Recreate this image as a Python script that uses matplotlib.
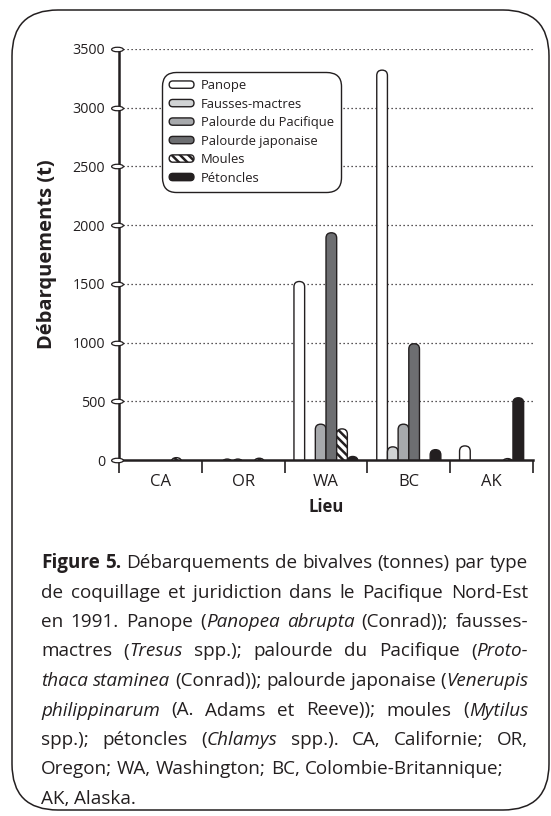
import matplotlib
matplotlib.use("Agg")
import matplotlib.pyplot as plt
from matplotlib.patches import FancyBboxPatch, Patch
from matplotlib.legend_handler import HandlerPatch
from matplotlib.path import Path
import matplotlib.transforms as mtransforms
import numpy as np

plt.rcParams['font.family'] = ['Open Sans', 'DejaVu Sans']
plt.rcParams['hatch.linewidth'] = 1.8
plt.rcParams['hatch.color'] = '#231f20'
INK = '#231f20'

# ---------------- data ----------------
locations = ['CA', 'OR', 'WA', 'BC', 'AK']
species = ['Panope', 'Fausses-mactres', 'Palourde du Pacifique',
           'Palourde japonaise', 'Moules', 'Pétoncles']
panope = [0, 0, 1520, 3320, 120]
fausses = [0, 8, 0, 112, 0]
pacifique = [0, 8, 305, 305, 0]
japonaise = [0, 0, 1935, 990, 0]
moules = [20, 15, 265, 0, 12]
petoncles = [0, 0, 30, 88, 530]
series = [panope, fausses, pacifique, japonaise, moules, petoncles]
yticks = [0, 500, 1000, 1500, 2000, 2500, 3000, 3500]

facecolors = ['white', '#d1d3d4', '#a7a9ac', '#6d6e71', 'white', INK]
hatches = [None, None, None, None, '\\\\\\\\', None]

# ---------------- figure ----------------
W, H = 551, 816
fig = plt.figure(figsize=(W / 100, H / 100), dpi=100)

bg = fig.add_axes([0, 0, 1, 1], zorder=0)
bg.set_xlim(0, W)
bg.set_ylim(H, 0)
bg.axis('off')
bg.add_patch(FancyBboxPatch((12, 10), 537, 800,
                            boxstyle='round,pad=0,rounding_size=46',
                            fill=False, ec=INK, lw=1.1))

ax_l, ax_r, ax_t, ax_b = 119, 533, 49, 460
ax = fig.add_axes([ax_l / W, 1 - ax_b / H, (ax_r - ax_l) / W, (ax_b - ax_t) / H],
                  zorder=1)
ax.patch.set_visible(False)
ax.set_xlim(0, len(locations))
ax.set_ylim(0, 3500)

n = len(species)
bw = 0.129
px_x = len(locations) / (ax_r - ax_l)
px_y = 3500 / (ax_b - ax_t)
aspect = px_y / px_x
ext = 12 * px_y
for i, (vals, fc, h) in enumerate(zip(series, facecolors, hatches)):
    for j, v in enumerate(vals):
        if v <= 0:
            continue
        x0 = j + 0.5 - n * bw / 2 + i * bw
        p = FancyBboxPatch((x0, -ext), bw, v + ext,
                           boxstyle=f'round,pad=0,rounding_size={bw / 2}',
                           mutation_aspect=aspect, fc=fc, ec=INK, lw=1.0,
                           hatch=h, zorder=3)
        ax.add_patch(p)

for t in yticks[1:]:
    ax.axhline(t, color=INK, lw=0.9, ls=(0, (1, 2.2)), zorder=1)

for s in ['top', 'right']:
    ax.spines[s].set_visible(False)
for s in ['left', 'bottom']:
    ax.spines[s].set_linewidth(1.8)
    ax.spines[s].set_color(INK)
    ax.spines[s].set_zorder(4)

ax.set_yticks(yticks)
ax.set_yticklabels([str(t) for t in yticks])
ax.tick_params(axis='y', length=0, pad=10, labelsize=10.3, labelcolor=INK)

circ = Path.unit_circle()
ell = Path(circ.vertices * np.array([1.0, 0.38]), circ.codes)
trans = mtransforms.blended_transform_factory(ax.transAxes, ax.transData)
ax.plot([-0.005] * len(yticks), yticks, transform=trans, ls='none', marker=ell,
        ms=8.5, mfc='white', mec=INK, mew=0.9, clip_on=False, zorder=5)

ax.set_xticks(range(len(locations) + 1))
ax.set_xticklabels([])
ax.set_xticks(np.arange(len(locations)) + 0.5, minor=True)
ax.set_xticklabels(locations, minor=True)
ax.tick_params(axis='x', which='major', length=9, width=1.2, color=INK)
ax.tick_params(axis='x', which='minor', length=0, pad=10, labelsize=12,
               labelcolor=INK)

ax.set_ylabel('Débarquements (t)', fontweight='bold', fontsize=14.5, color=INK)
ax.yaxis.set_label_coords((57 - ax_l) / (ax_r - ax_l), 0.5)
ax.set_xlabel('Lieu', fontweight='bold', fontsize=12, color=INK)
ax.xaxis.set_label_coords(0.5, (ax_b - 498) / (ax_b - ax_t))


def capsule(legend, orig_handle, xdescent, ydescent, width, height, fontsize):
    return FancyBboxPatch((-xdescent, -ydescent + height * 0.1), width, height * 0.8,
                          boxstyle=f'round,pad=0,rounding_size={height * 0.4}')


handles = [Patch(facecolor=fc, edgecolor=INK, hatch=h, lw=1.0, label=s)
           for s, fc, h in zip(species, facecolors, hatches)]
leg = ax.legend(handles=handles, loc='upper left',
                bbox_to_anchor=((162 - ax_l) / (ax_r - ax_l), 1 - (72 - ax_t) / (ax_b - ax_t)),
                borderaxespad=0, handler_map={Patch: HandlerPatch(patch_func=capsule)},
                fontsize=9.4, frameon=True, fancybox=True, edgecolor=INK, framealpha=1,
                handlelength=1.9, handleheight=0.7, handletextpad=0.5,
                labelspacing=0.42, borderpad=0.55)
leg.get_frame().set_linewidth(1.0)
leg.get_frame().set_boxstyle('round,pad=0,rounding_size=1.1')
for t in leg.get_texts():
    t.set_color(INK)
leg.set_zorder(6)

# ---------------- caption ----------------
caption = [
    [("Figure 5.", 'b'), (" Débarquements de bivalves (tonnes) par type", 'r')],
    [("de coquillage et juridiction dans le Pacifique Nord-Est", 'r')],
    [("en 1991. Panope (", 'r'), ("Panopea abrupta", 'i'), (" (Conrad)); fausses-", 'r')],
    [("mactres (", 'r'), ("Tresus", 'i'), (" spp.); palourde du Pacifique (", 'r'), ("Proto-", 'i')],
    [("thaca staminea", 'i'), (" (Conrad)); palourde japonaise (", 'r'), ("Venerupis", 'i')],
    [("philippinarum", 'i'), (" (A. Adams et Reeve)); moules (", 'r'), ("Mytilus", 'i')],
    [("spp.); pétoncles (", 'r'), ("Chlamys", 'i'), (" spp.). CA, Californie; OR,", 'r')],
    [("Oregon; WA, Washington; BC, Colombie-Britannique;", 'r')],
    [("AK, Alaska.", 'r')],
]
justify = [True] * 7 + [False, False]
style_kw = {'r': {}, 'b': {'fontweight': 'bold'}, 'i': {'fontstyle': 'italic'}}
cap_fs = 13.6
cap_left, cap_right = 41, 528
base0, lead = 568, 29.5

renderer = fig.canvas.get_renderer()


def seg_width(txt, st):
    t = bg.text(0, 0, txt, fontsize=cap_fs, **style_kw[st])
    w = t.get_window_extent(renderer).width
    t.remove()
    return w


space = seg_width('a a', 'r') - seg_width('aa', 'r')

for li, (runs, just) in enumerate(zip(caption, justify)):
    words, cur = [], []
    for text, st in runs:
        parts = text.split(' ')
        for k, part in enumerate(parts):
            if k > 0 and cur:
                words.append(cur)
                cur = []
            if part:
                cur.append((part, st))
    if cur:
        words.append(cur)
    widths = [[seg_width(p, st) for p, st in w] for w in words]
    total = sum(sum(w) for w in widths)
    gap = (cap_right - cap_left - total) / (len(words) - 1) if just and len(words) > 1 else space
    gap = max(gap, 0.7 * space)
    x = cap_left
    y = base0 + li * lead
    for w, ws in zip(words, widths):
        for (p, st), pw in zip(w, ws):
            bg.text(x, y, p, fontsize=cap_fs, va='baseline', ha='left', color=INK,
                    **style_kw[st])
            x += pw
        x += gap

fig.savefig('out.png', dpi=100)
